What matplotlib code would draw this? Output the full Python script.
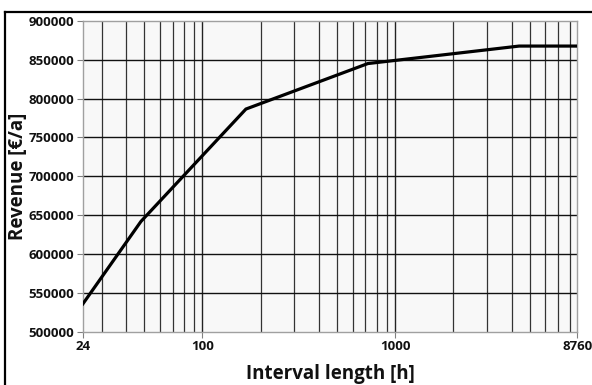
import matplotlib
matplotlib.use("Agg")
import matplotlib.pyplot as plt
from matplotlib.lines import Line2D
from matplotlib.ticker import FixedLocator, NullFormatter

interval_h = [24, 48, 168, 720, 4380, 8760]
revenue = [536000, 642000, 786500, 845000, 867500, 867500]
x_ticks = [24, 100, 1000, 8760]
x_tick_labels = ["24", "100", "1000", "8760"]
y_ticks = [500000, 550000, 600000, 650000, 700000, 750000, 800000, 850000, 900000]
minor_grid = [30, 40, 50, 60, 70, 80, 90, 200, 300, 400, 500, 600, 700, 800, 900,
              2000, 3000, 4000, 5000, 6000, 7000, 8000]

plt.rcParams['font.family'] = ['Open Sans', 'DejaVu Sans']

fig = plt.figure(figsize=(5.92, 3.85), dpi=100)
ax = fig.add_axes([0.140, 0.138, 0.835, 0.808])
ax.set_facecolor('#f8f8f8')

ax.set_xscale('log')
ax.set_xlim(24, 8760)
ax.set_ylim(500000, 900000)

# grid
for v in minor_grid:
    ax.axvline(v, color='#333333', lw=0.9, zorder=1)
for v in [100, 1000]:
    ax.axvline(v, color='#222222', lw=1.0, zorder=1)
for v in y_ticks[1:-1]:
    ax.axhline(v, color='#111111', lw=1.0, zorder=1)

ax.plot(interval_h, revenue, color='black', lw=2.3, zorder=3, solid_joinstyle='miter')

ax.xaxis.set_major_locator(FixedLocator(x_ticks))
ax.set_xticklabels(x_tick_labels)
ax.xaxis.set_minor_locator(FixedLocator([]))
ax.xaxis.set_minor_formatter(NullFormatter())
ax.set_yticks(y_ticks)
ax.set_yticklabels([str(v) for v in y_ticks])

for s in ax.spines.values():
    s.set_color('#a0a0a0')
    s.set_linewidth(1.0)

ax.tick_params(axis='both', which='major', length=4, width=0.8, color='#808080',
               labelsize=9.5, labelcolor='#111111', pad=2)
for lbl in ax.get_xticklabels() + ax.get_yticklabels():
    lbl.set_fontweight('bold')

ax.set_xlabel('Interval length [h]', fontsize=13.5, fontweight='bold', color='#111111')
ax.set_ylabel('Revenue [€/a]', fontsize=13.5, fontweight='bold', color='#111111')
ax.xaxis.set_label_coords(0.5, -0.104)
ax.yaxis.set_label_coords(-0.112, 0.5)

# outer frame lines (top and left)
fig.add_artist(Line2D([5/592, 1], [1 - 12/385, 1 - 12/385], transform=fig.transFigure,
                      color='black', lw=1.6))
fig.add_artist(Line2D([5/592, 5/592], [0, 1 - 12/385], transform=fig.transFigure,
                      color='black', lw=1.6))

fig.savefig('out.png', dpi=100)
